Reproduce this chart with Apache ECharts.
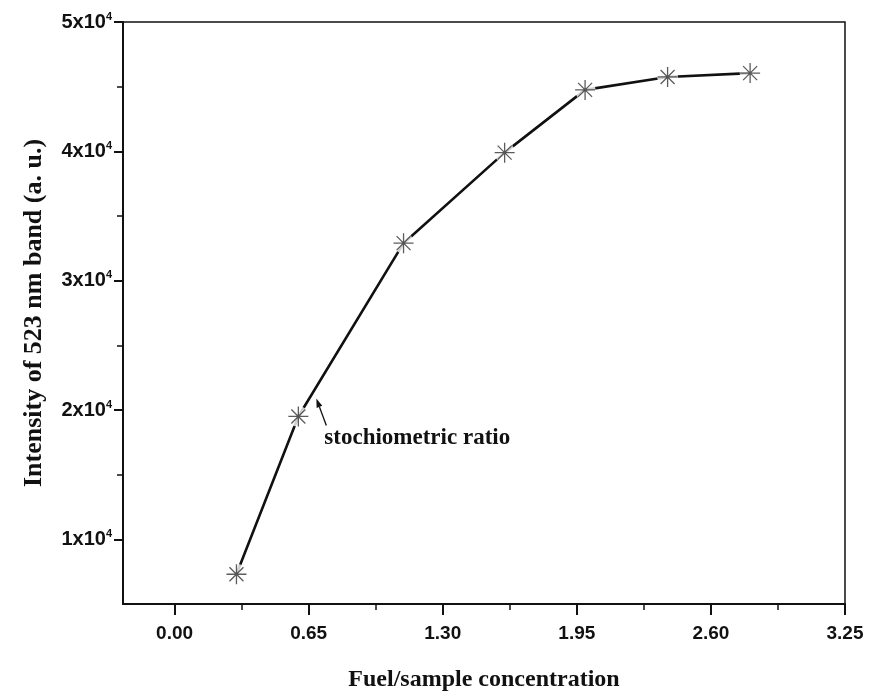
<!DOCTYPE html>
<html>
<head>
<meta charset="utf-8">
<script src="https://cdn.jsdelivr.net/npm/echarts@6/dist/echarts.min.js"></script>
<style>
  html, body { margin: 0; padding: 0; background: #fff; }
  #chart { width: 870px; height: 697px; }
</style>
</head>
<body>
<div id="chart"></div>
<script>
// fuel/sample concentration vs intensity of the 523 nm band
const xVals = [0.30, 0.60, 1.11, 1.60, 1.99, 2.39, 2.79];
const yVals = [7300, 19500, 32900, 39900, 44750, 45750, 46050];
const xTicks = [0, 0.65, 1.30, 1.95, 2.60, 3.25];
const xMinor = [0.325, 0.975, 1.625, 2.275, 2.925];
const yTicks = [10000, 20000, 30000, 40000, 50000];
const yMinor = [15000, 25000, 35000, 45000];
const noteText = 'stochiometric ratio';
const noteIndex = 1;

const points = xVals.map((x, i) => [x, yVals[i]]);

// asterisk marker
const starPath = 'path://M10,0 L10,20 M0,10 L20,10 M3,3 L17,17 M3,17 L17,3';

const chart = echarts.init(document.getElementById('chart'));

const tickFont = '"Liberation Sans", Arial, sans-serif';
const serif = '"Liberation Serif", serif';

chart.setOption({
    animation: false,
    grid: {
        left: 123, right: 25, top: 22, bottom: 92,
        show: true, borderColor: '#111', borderWidth: 1.5
    },
    xAxis: [{
        type: 'value', min: -0.25, max: 3.25,
        axisLine: { onZero: false, lineStyle: { color: '#111', width: 2 } },
        axisTick: { customValues: xTicks, length: 11, lineStyle: { color: '#111', width: 2 } },
        axisLabel: {
            customValues: xTicks, margin: 20,
            fontFamily: tickFont, fontWeight: 'bold', fontSize: 19, color: '#111',
            formatter: v => v.toFixed(2)
        },
        splitLine: { show: false },
        name: 'Fuel/sample concentration',
        nameLocation: 'middle', nameGap: 64,
        nameTextStyle: { fontFamily: serif, fontWeight: 'bold', fontSize: 24, color: '#111' }
    }, {
        // minor ticks
        type: 'value', min: -0.25, max: 3.25, position: 'bottom',
        axisLine: { show: false, onZero: false },
        axisTick: { customValues: xMinor, length: 6, lineStyle: { color: '#111', width: 1.5 } },
        axisLabel: { show: false },
        splitLine: { show: false }
    }],
    yAxis: [{
        type: 'value', min: 5000, max: 50000,
        axisLine: { onZero: false, lineStyle: { color: '#111', width: 2 } },
        axisTick: { customValues: yTicks, length: 9, lineStyle: { color: '#111', width: 2 } },
        axisLabel: {
            customValues: yTicks, margin: 11,
            formatter: v => '{b|' + (v / 10000) + 'x10}{s|4}',
            rich: {
                b: { fontFamily: tickFont, fontWeight: 'bold', fontSize: 20, color: '#111', lineHeight: 22 },
                s: { fontFamily: tickFont, fontWeight: 'bold', fontSize: 11, color: '#111', verticalAlign: 'top', lineHeight: 12 }
            }
        },
        splitLine: { show: false },
        name: 'Intensity of 523 nm band (a. u.)',
        nameLocation: 'middle', nameGap: 76,
        nameTextStyle: { fontFamily: serif, fontWeight: 'bold', fontSize: 26, color: '#111' }
    }, {
        type: 'value', min: 5000, max: 50000, position: 'left',
        axisLine: { show: false, onZero: false },
        axisTick: { customValues: yMinor, length: 6, lineStyle: { color: '#111', width: 1.5 } },
        axisLabel: { show: false },
        splitLine: { show: false }
    }],
    series: [{
        type: 'line', data: points, showSymbol: false, z: 2,
        lineStyle: { color: '#111', width: 2.6 }
    }, {
        // white gaps around markers
        type: 'scatter', data: points, symbol: 'circle', symbolSize: 21, z: 3,
        itemStyle: { color: '#fff' }, silent: true
    }, {
        type: 'scatter', data: points, symbol: starPath, symbolSize: 20, z: 4,
        itemStyle: { color: 'none', borderColor: '#333', borderWidth: 1.3 }
    }]
});

// annotation anchored on the stoichiometric point
const p = chart.convertToPixel({ seriesIndex: 0 }, points[noteIndex]);
const head = [p[0] + 18, p[1] - 18];
const tail = [p[0] + 28, p[1] + 9];
const dx = head[0] - tail[0], dy = head[1] - tail[1];
const len = Math.sqrt(dx * dx + dy * dy);
const ux = dx / len, uy = dy / len;
const hl = 9, hw = 3;
const base = [head[0] - ux * hl, head[1] - uy * hl];
chart.setOption({
    graphic: [{
        type: 'line', z: 10,
        shape: { x1: tail[0], y1: tail[1], x2: base[0], y2: base[1] },
        style: { stroke: '#111', lineWidth: 1.3 }
    }, {
        type: 'polygon', z: 10,
        shape: { points: [head, [base[0] - uy * hw, base[1] + ux * hw], [base[0] + uy * hw, base[1] - ux * hw]] },
        style: { fill: '#111' }
    }, {
        type: 'text', z: 10,
        x: p[0] + 26, y: p[1] + 22,
        style: {
            text: noteText, fill: '#111',
            font: 'bold 23px "Liberation Serif"',
            verticalAlign: 'middle'
        }
    }]
});
</script>
</body>
</html>
